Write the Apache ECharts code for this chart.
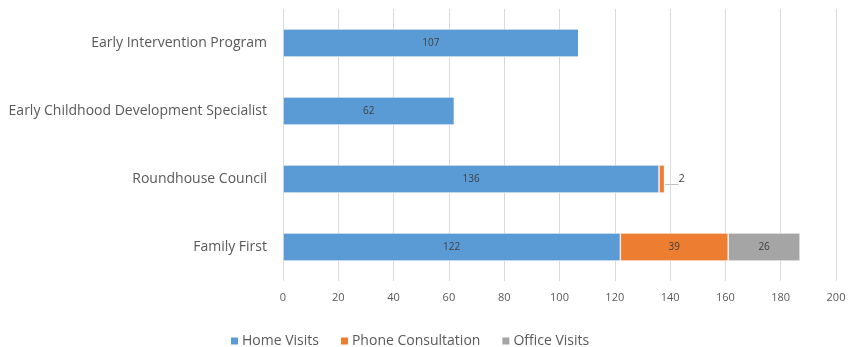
<!DOCTYPE html>
<html>
<head>
<meta charset="utf-8">
<script src="https://cdn.jsdelivr.net/npm/echarts@6/dist/echarts.min.js"></script>
<style>
  html, body { margin: 0; padding: 0; background: #fff; }
  #chart { width: 849px; height: 347px; }
</style>
</head>
<body>
<div id="chart"></div>
<script>
// Programmes, listed bottom to top on the category axis
const categories = ['Family First', 'Roundhouse Council', 'Early Childhood Development Specialist', 'Early Intervention Program'];
const homeVisits = [122, 136, 62, 107];
const phoneConsultation = [39, 2, 0, 0];
const officeVisits = [26, 0, 0, 0];
const xTicks = [0, 20, 40, 60, 80, 100, 120, 140, 160, 180, 200];

const FONT = '"Open Sans", "Liberation Sans", sans-serif';
const TEXT = '#595959';

const chart = echarts.init(document.getElementById('chart'));

function hideZero(p) { return p.value ? String(p.value) : ''; }

const baseLabel = {
  show: true,
  position: 'inside',
  color: '#404040',
  fontFamily: FONT,
  fontSize: 10,
  formatter: hideZero
};

// Small segments get their label pushed out to the right with a leader line
function phoneData() {
  return phoneConsultation.map(function (v) {
    if (v > 0 && v < 5) {
      return {
        value: v,
        label: { position: 'right', distance: 14, fontSize: 11 },
        labelLine: { show: true, length2: 0, lineStyle: { color: '#bfbfbf', width: 1 } }
      };
    }
    return v;
  });
}

chart.setOption({
  animation: false,
  grid: { left: 283, right: 13, top: 9, bottom: 66, containLabel: false },
  legend: {
    top: 329,
    left: 224,
    itemWidth: 9,
    itemHeight: 9,
    itemGap: 20,
    icon: 'rect',
    textStyle: { color: TEXT, fontFamily: FONT, fontSize: 14, padding: [0, 0, 0, -2] },
    data: ['Home Visits', 'Phone Consultation', 'Office Visits']
  },
  xAxis: {
    type: 'value',
    min: xTicks[0],
    max: xTicks[xTicks.length - 1],
    interval: 20,
    axisLine: { show: false },
    axisTick: { show: false },
    axisLabel: { color: TEXT, fontFamily: FONT, fontSize: 11, margin: 11 },
    splitLine: { show: true, lineStyle: { color: '#d9d9d9', width: 1 } }
  },
  yAxis: {
    type: 'category',
    data: categories,
    axisLine: { show: false },
    axisTick: { show: false },
    axisLabel: { color: TEXT, fontFamily: FONT, fontSize: 14, margin: 16 }
  },
  series: [
    {
      name: 'Home Visits', type: 'bar', stack: 'total',
      data: homeVisits, barWidth: 28,
      itemStyle: { color: '#5B9BD5', borderColor: '#ffffff', borderWidth: 0.6 },
      label: baseLabel
    },
    {
      name: 'Phone Consultation', type: 'bar', stack: 'total',
      data: phoneData(), barWidth: 28,
      itemStyle: { color: '#ED7D31', borderColor: '#ffffff', borderWidth: 0.6 },
      label: baseLabel
    },
    {
      name: 'Office Visits', type: 'bar', stack: 'total',
      data: officeVisits, barWidth: 28,
      itemStyle: { color: '#A5A5A5', borderColor: '#ffffff', borderWidth: 0.6 },
      label: baseLabel
    }
  ]
});
</script>
</body>
</html>
